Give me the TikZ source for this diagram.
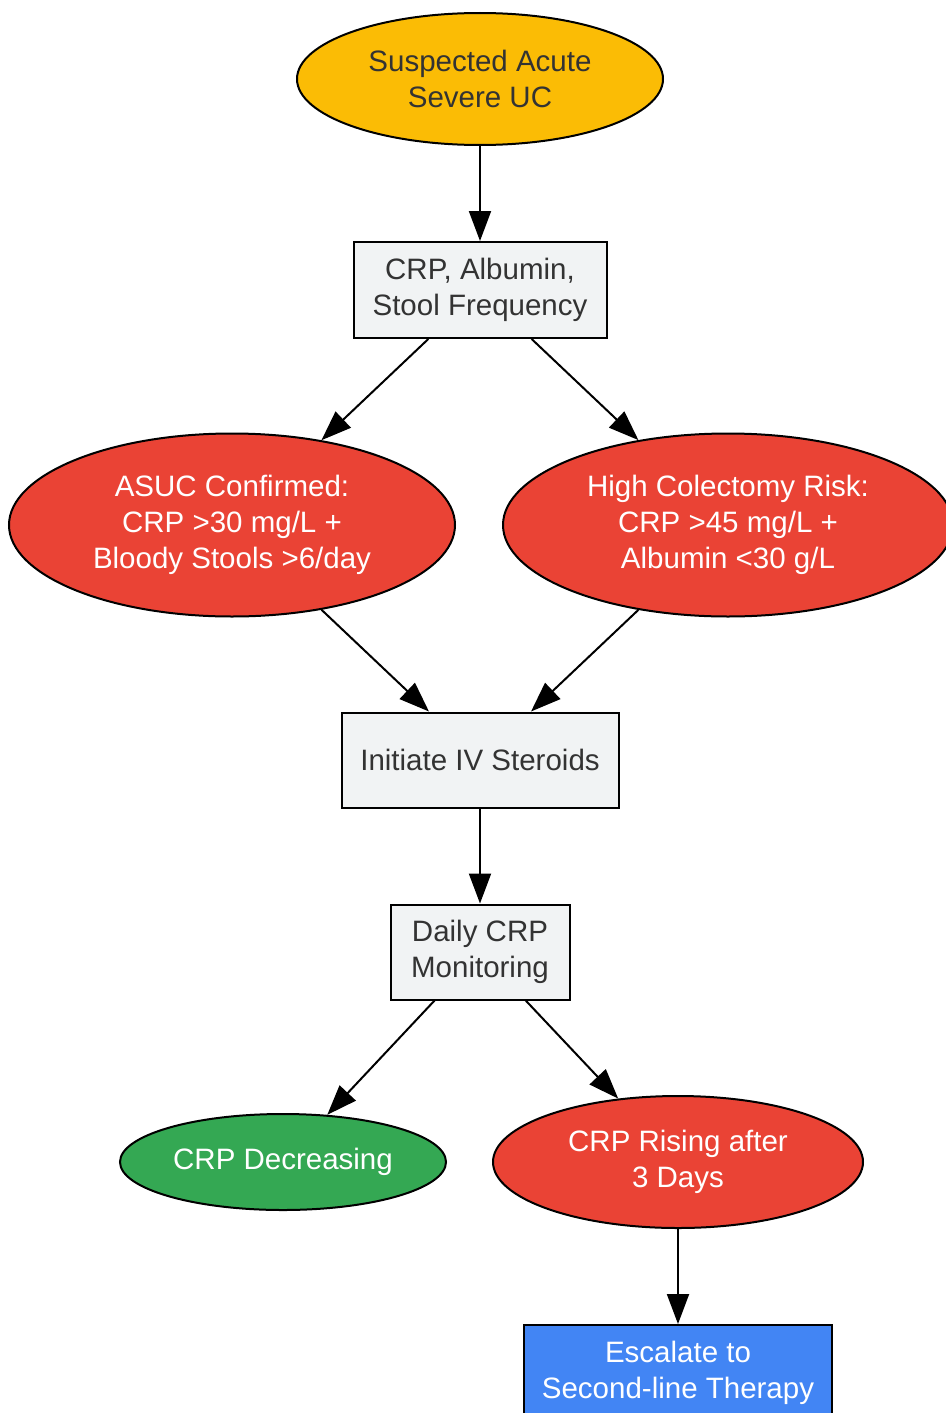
\documentclass[tikz,border=0pt]{standalone}
\usepackage{fontspec}
\setmainfont{Liberation Sans}
\usetikzlibrary{shapes.geometric,arrows.meta}
\definecolor{startyellow}{HTML}{FBBC05}
\definecolor{alertred}{HTML}{EA4335}
\definecolor{okgreen}{HTML}{34A853}
\definecolor{actionblue}{HTML}{4285F4}
\definecolor{stepgray}{HTML}{F1F3F4}
\definecolor{darktext}{HTML}{333333}

\begin{document}
\begin{tikzpicture}[x=1pt,y=-1pt,
		font=\fontsize{29.5}{36}\selectfont,
		box/.style={draw=black,line width=2pt,rectangle,inner sep=0pt,align=center,fill=stepgray,text=darktext},
		oval/.style={draw=black,line width=2pt,ellipse,inner sep=0pt,align=center,text=white},
		flow/.style={line width=2pt,-{Triangle[length=30pt,width=22pt]}}]
		\useasboundingbox (0,0) rectangle (945,1413);
		\node (suspect) [oval,fill=startyellow,text=darktext,minimum width=366pt,minimum height=132pt] at (480,79) {Suspected Acute\\Severe UC};
		\node (labs) [box,minimum width=253pt,minimum height=96pt] at (480,290) {CRP, Albumin,\\Stool Frequency};
		\node (asuc) [oval,fill=alertred,minimum width=446pt,minimum height=183pt] at (232,525) {ASUC Confirmed:\\CRP >30 mg/L +\\Bloody Stools >6/day};
		\node (colrisk) [oval,fill=alertred,minimum width=450pt,minimum height=183pt] at (728,525) {High Colectomy Risk:\\CRP >45 mg/L +\\Albumin <30 g/L};
		\node (steroids) [box,minimum width=277pt,minimum height=95pt] at (480,760) {Initiate IV Steroids};
		\node (monitor) [box,minimum width=179pt,minimum height=95pt] at (480,952) {Daily CRP\\Monitoring};
		\node (falling) [oval,fill=okgreen,minimum width=326pt,minimum height=96pt] at (283,1162) {CRP Decreasing};
		\node (rising) [oval,fill=alertred,minimum width=370pt,minimum height=132pt] at (678,1162) {CRP Rising after\\3 Days};
		\node (escalate) [box,fill=actionblue,text=white,minimum width=308pt,minimum height=96pt] at (678,1373) {Escalate to\\Second-line Therapy};

		\draw[flow] (suspect) -- (labs);
		\draw[flow] (labs) -- (asuc);
		\draw[flow] (labs) -- (colrisk);
		\draw[flow] (asuc) -- (steroids);
		\draw[flow] (colrisk) -- (steroids);
		\draw[flow] (steroids) -- (monitor);
		\draw[flow] (monitor) -- (falling);
		\draw[flow] (monitor) -- (rising);
		\draw[flow] (rising) -- (escalate);
\end{tikzpicture}
\end{document}
